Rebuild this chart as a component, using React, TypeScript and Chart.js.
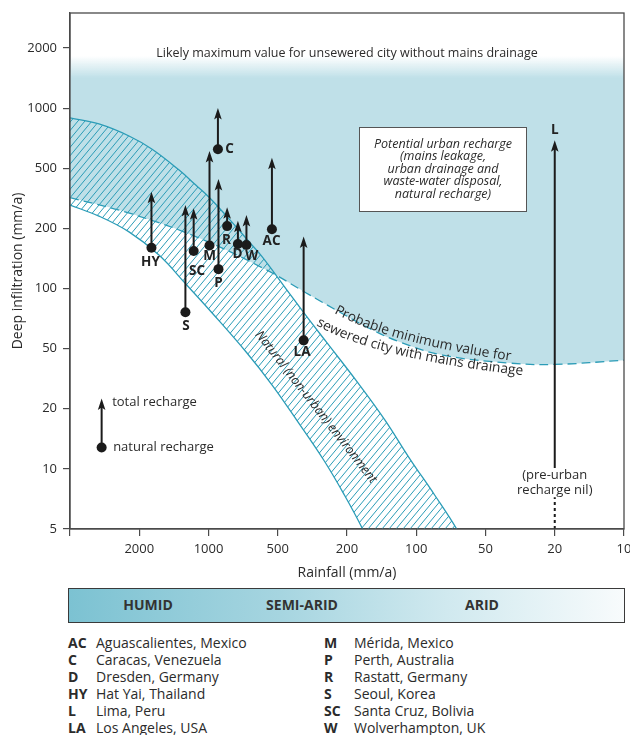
import React, { useEffect, useRef } from 'react';
import { Chart, registerables } from 'chart.js';

Chart.register(...registerables);

const FONT = '"Open Sans", "Noto Sans", sans-serif';
const TEXT = '#2b2b2b';
const TEAL = '#2b9cb7';
const BLUE = '#bfe0e8';
const AXIS = '#4a4a4a';
const INK = '#1b1b1b';

// ---------------- data ----------------
const cityCodes = ['HY', 'S', 'SC', 'M', 'P', 'C', 'R', 'D', 'W', 'AC', 'LA'];
const cityRain = [1770, 1260, 1160, 990, 905, 910, 830, 745, 684, 530, 355];
const cityNatural = [160, 76, 154, 164, 125, 622, 207, 167, 165, 198, 55];
const cityTotal = [350, 286, 272, 610, 425, 1000, 276, 225, 245, 564, 182];

// Lima: pre-urban recharge nil
const limaRain = 20;
const limaTotal = 690;
const limaSolidFrom = 10.1;
const limaDottedTo = 7.2;

// key arrow
const keyRain = 3290;
const keyNatural = 12.8;
const keyTotal = 23.4;

// probable minimum value for sewered city (lower edge of urban recharge zone)
const minRain = [5000, 2200, 1100, 561, 343, 221, 155, 118, 76.8, 36.3, 20, 10];
const minInf = [320, 249, 179, 124, 95, 76.3, 62, 54, 45.3, 40.1, 39.3, 41.9];

// natural (non-urban) environment band
const upperRain = [5000, 3410, 2290, 1765, 1342, 1136, 987, 814, 665, 584, 447, 343, 263, 182, 137, 107, 83.2, 66.7, 59.8];
const upperInf = [893, 833, 725, 624, 486, 387, 318, 231, 171, 144, 99.4, 72.9, 54, 30.6, 17.6, 11.3, 7.4, 5, 3.6];
const lowerRain = [5000, 3410, 2290, 1642, 1252, 964, 686, 528, 376, 270, 207, 171, 157];
const lowerInf = [285, 241, 192, 147, 105, 75.4, 47.5, 28.6, 16.8, 10.95, 7.4, 5, 3.74];

// axis ranges (values)
const rainMin = 10;
const rainMax = 5000;
const infMin = 5;
const infTickMax = 2000;

const climateZones = ['HUMID', 'SEMI-ARID', 'ARID'];
const legendLeft = [
  ['AC', 'Aguascalientes, Mexico'],
  ['C', 'Caracas, Venezuela'],
  ['D', 'Dresden, Germany'],
  ['HY', 'Hat Yai, Thailand'],
  ['L', 'Lima, Peru'],
  ['LA', 'Los Angeles, USA'],
];
const legendRight = [
  ['M', 'Mérida, Mexico'],
  ['P', 'Perth, Australia'],
  ['R', 'Rastatt, Germany'],
  ['S', 'Seoul, Korea'],
  ['SC', 'Santa Cruz, Bolivia'],
  ['W', 'Wolverhampton, UK'],
];

// ---------------- layout (pixels) ----------------
const labelOffsets: Record<string, [number, number, CanvasTextAlign]> = {
  HY: [-1, 14, 'center'],
  S: [0.5, 14, 'center'],
  SC: [3.4, 20.5, 'center'],
  M: [0, 11, 'center'],
  P: [0, 14, 'center'],
  C: [7.3, 0, 'left'],
  R: [-0.7, 14.3, 'center'],
  D: [-0.4, 10.3, 'center'],
  W: [5.3, 10.7, 'center'],
  AC: [-0.4, 12, 'center'],
  LA: [-1.6, 12.2, 'center'],
};
const zoneCenters = [148, 302, 482];

// 1-2-5 pseudo-logarithmic transform used by the original figure
function f125(v: number): number {
  const e = Math.floor(Math.log10(v) + 1e-9);
  const m = v / Math.pow(10, e);
  let p: number;
  if (m < 2) p = Math.log(m) / Math.LN2;
  else if (m < 5) p = 1 + Math.log(m / 2) / Math.log(2.5);
  else p = 2 + Math.log(m / 5) / Math.LN2;
  return 3 * e + p;
}
function inv125(f: number): number {
  const r = Math.round(f);
  const e = Math.floor(r / 3);
  return [1, 2, 5][r - 3 * e] * Math.pow(10, e);
}
const pts = (xs: number[], ys: number[]) => xs.map((x, i) => ({ x: f125(x), y: f125(ys[i]) }));

function arrow(ctx: CanvasRenderingContext2D, x: number, y0: number, y1: number) {
  ctx.beginPath();
  ctx.moveTo(x, y0);
  ctx.lineTo(x, y1 + 7);
  ctx.lineWidth = 2;
  ctx.strokeStyle = INK;
  ctx.stroke();
  ctx.beginPath();
  ctx.moveTo(x, y1);
  ctx.lineTo(x - 3.8, y1 + 11.5);
  ctx.lineTo(x, y1 + 9);
  ctx.lineTo(x + 3.8, y1 + 11.5);
  ctx.closePath();
  ctx.fillStyle = INK;
  ctx.fill();
}

function textOnQuad(
  ctx: CanvasRenderingContext2D,
  text: string,
  p0: [number, number],
  p1: [number, number],
  p2: [number, number]
) {
  const N = 400;
  const P: [number, number][] = [];
  const L: number[] = [0];
  for (let i = 0; i <= N; i++) {
    const t = i / N;
    const a = (1 - t) * (1 - t), b = 2 * (1 - t) * t, c = t * t;
    P.push([a * p0[0] + b * p1[0] + c * p2[0], a * p0[1] + b * p1[1] + c * p2[1]]);
    if (i > 0) L.push(L[i - 1] + Math.hypot(P[i][0] - P[i - 1][0], P[i][1] - P[i - 1][1]));
  }
  const at = (s: number) => {
    let i = 1;
    while (i < N && L[i] < s) i++;
    const seg = L[i] - L[i - 1] || 1;
    const k = Math.max(0, Math.min(1, (s - L[i - 1]) / seg));
    const x = P[i - 1][0] + k * (P[i][0] - P[i - 1][0]);
    const y = P[i - 1][1] + k * (P[i][1] - P[i - 1][1]);
    const ang = Math.atan2(P[i][1] - P[i - 1][1], P[i][0] - P[i - 1][0]);
    return { x, y, ang };
  };
  let s = 0;
  ctx.textAlign = 'center';
  ctx.textBaseline = 'alphabetic';
  for (const ch of text) {
    const w = ctx.measureText(ch).width;
    const { x, y, ang } = at(s + w / 2);
    ctx.save();
    ctx.translate(x, y);
    ctx.rotate(ang);
    ctx.fillText(ch, 0, 0);
    ctx.restore();
    s += w;
  }
}

const annotations = {
  id: 'annotations',
  beforeDatasetsDraw(chart: any) {
    const { ctx, chartArea: ca } = chart;
    const upMeta = chart.getDatasetMeta(3);
    const loMeta = chart.getDatasetMeta(4);
    const up = upMeta.dataset;
    const lo = loMeta.dataset;
    const trace = (line: any, meta: any) => {
      if (line && typeof line.updateControlPoints === 'function') line.updateControlPoints(ca, 'x');
      if (line && typeof line.path === 'function') {
        line.path(ctx);
      } else {
        meta.data.forEach((p: any, i: number) => (i ? ctx.lineTo(p.x, p.y) : ctx.moveTo(p.x, p.y)));
      }
    };
    const uP = upMeta.data;
    const lP = loMeta.data;
    ctx.save();
    ctx.beginPath();
    ctx.rect(ca.left, ca.top, ca.right - ca.left, ca.bottom - ca.top);
    ctx.clip();
    ctx.beginPath();
    trace(up, upMeta);
    ctx.lineTo(uP[uP.length - 1].x, ca.bottom + 300);
    ctx.lineTo(ca.left - 300, ca.bottom + 300);
    ctx.lineTo(ca.left - 300, uP[0].y);
    ctx.closePath();
    ctx.clip();
    ctx.beginPath();
    trace(lo, loMeta);
    ctx.lineTo(ca.right + 300, lP[lP.length - 1].y);
    ctx.lineTo(ca.right + 300, ca.top - 300);
    ctx.lineTo(ca.left - 300, ca.top - 300);
    ctx.lineTo(ca.left - 300, lP[0].y);
    ctx.closePath();
    ctx.clip();
    ctx.strokeStyle = TEAL;
    ctx.lineWidth = 1;
    const H = ca.bottom - ca.top;
    const dx = H / 1.2;
    ctx.beginPath();
    for (let x0 = ca.left - dx; x0 < ca.right; x0 += 7) {
      ctx.moveTo(x0, ca.bottom);
      ctx.lineTo(x0 + dx, ca.top);
    }
    ctx.stroke();
    ctx.restore();
  },
  afterDatasetsDraw(chart: any) {
    const { ctx, chartArea: ca } = chart;
    const xs = chart.scales.x;
    const ys = chart.scales.y;
    const px = (r: number) => xs.getPixelForValue(f125(r));
    const py = (v: number) => ys.getPixelForValue(f125(v));
    ctx.save();

    // arrows natural -> total
    cityCodes.forEach((c, i) => arrow(ctx, px(cityRain[i]), py(cityNatural[i]), py(cityTotal[i])));
    arrow(ctx, px(keyRain), py(keyNatural), py(keyTotal));

    // Lima
    const lx = px(limaRain);
    arrow(ctx, lx, py(limaSolidFrom), py(limaTotal));
    ctx.beginPath();
    ctx.setLineDash([3, 3]);
    ctx.moveTo(lx, py(infMin));
    ctx.lineTo(lx, py(limaDottedTo));
    ctx.lineWidth = 2;
    ctx.strokeStyle = INK;
    ctx.stroke();
    ctx.setLineDash([]);

    // city labels
    ctx.fillStyle = '#222';
    ctx.font = `bold 13.5px ${FONT}`;
    ctx.textBaseline = 'middle';
    cityCodes.forEach((c, i) => {
      const [ox, oy, al] = labelOffsets[c];
      ctx.textAlign = al;
      ctx.fillText(c, px(cityRain[i]) + ox, py(cityNatural[i]) + oy);
    });
    ctx.textAlign = 'center';
    ctx.fillText('L', lx, py(limaTotal) - 10);

    ctx.fillStyle = TEXT;
    ctx.font = `13px ${FONT}`;
    // key text
    ctx.textAlign = 'left';
    ctx.fillText('total recharge', px(keyRain) + 10.5, py(keyTotal) + 3.5);
    ctx.fillText('natural recharge', px(keyRain) + 11.5, py(keyNatural) - 0.5);

    // top note
    ctx.font = `12.5px ${FONT}`;
    ctx.textAlign = 'center';
    ctx.fillText('Likely maximum value for unsewered city without mains drainage', 347, 53);

    // pre-urban note
    ctx.font = `13px ${FONT}`;
    ctx.fillText('(pre-urban', lx, 475);
    ctx.fillText('recharge nil)', lx, 490);

    // box
    ctx.fillStyle = '#ffffff';
    ctx.fillRect(359.5, 127.5, 167, 84);
    ctx.strokeStyle = '#555';
    ctx.lineWidth = 1;
    ctx.strokeRect(359.5, 127.5, 167, 84);
    ctx.fillStyle = TEXT;
    ctx.font = `italic 12.5px ${FONT}`;
    const boxLines = [
      'Potential urban recharge',
      '(mains leakage,',
      'urban drainage and',
      'waste-water disposal,',
      'natural recharge)',
    ];
    boxLines.forEach((t, i) => ctx.fillText(t, 443, 144 + i * 12.6));

    // Natural environment band label
    ctx.save();
    ctx.translate(316, 407);
    ctx.rotate((52 * Math.PI) / 180);
    ctx.font = `italic 12.8px ${FONT}`;
    ctx.textAlign = 'center';
    ctx.textBaseline = 'middle';
    ctx.fillText('Natural (non-urban) environment', 0, 0);
    ctx.restore();

    // probable minimum labels
    ctx.font = `13.8px ${FONT}`;
    ctx.fillStyle = TEXT;
    textOnQuad(ctx, 'Probable minimum value for', [334, 313], [390, 344], [520, 362]);
    textOnQuad(ctx, 'sewered city with mains drainage', [316, 325], [375.3, 359.2], [530, 376]);

    // frame
    ctx.strokeStyle = AXIS;
    ctx.lineWidth = 1.3;
    ctx.strokeRect(ca.left, ca.top, ca.right - ca.left, ca.bottom - ca.top);
    ctx.restore();
  },
};

export default function App() {
  const ref = useRef<HTMLCanvasElement>(null);

  useEffect(() => {
    const canvas = ref.current;
    if (!canvas) return;
    const tickFont = { family: FONT, size: 13 };
    const titleFont = { family: FONT, size: 14 };
    const chart = new Chart(canvas, {
      type: 'line',
      data: {
        datasets: [
          {
            label: 'natural recharge',
            data: pts(cityRain, cityNatural),
            showLine: false,
            pointRadius: 5,
            pointBackgroundColor: INK,
            pointBorderColor: INK,
            pointBorderWidth: 0,
            order: 0,
          },
          {
            label: 'key',
            data: pts([keyRain], [keyNatural]),
            showLine: false,
            pointRadius: 5,
            pointBackgroundColor: INK,
            pointBorderColor: INK,
            pointBorderWidth: 0,
            order: 0,
          },
          {
            label: 'Probable minimum value for sewered city with mains drainage',
            data: pts(minRain, minInf),
            borderColor: TEAL,
            borderWidth: 1.3,
            borderDash: [9, 5],
            pointRadius: 0,
            tension: 0.4,
            fill: 'end',
            backgroundColor: (c: any) => {
              const ch = c.chart;
              const ca = ch.chartArea;
              if (!ca) return BLUE;
              const g = ch.ctx.createLinearGradient(0, ca.top + 43, 0, ca.top + 65);
              g.addColorStop(0, 'rgba(191,224,232,0)');
              g.addColorStop(1, BLUE);
              return g;
            },
            order: 3,
          },
          {
            label: 'Natural environment (upper)',
            data: pts(upperRain, upperInf),
            borderColor: TEAL,
            borderWidth: 1.3,
            pointRadius: 0,
            tension: 0.4,
            fill: false,
            order: 2,
          },
          {
            label: 'Natural environment (lower)',
            data: pts(lowerRain, lowerInf),
            borderColor: TEAL,
            borderWidth: 1.3,
            pointRadius: 0,
            tension: 0.4,
            fill: false,
            order: 2,
          },
        ],
      } as any,
      options: {
        animation: false,
        responsive: false,
        devicePixelRatio: 1,
        events: [],
        layout: { padding: { top: 13, right: 6, left: 0, bottom: 0 } },
        elements: { line: { capBezierPoints: false } },
        plugins: {
          legend: { display: false },
          tooltip: { enabled: false },
          filler: { drawTime: 'beforeDatasetsDraw', propagate: false },
        },
        scales: {
          x: {
            type: 'linear',
            reverse: true,
            min: f125(rainMin),
            max: f125(rainMax),
            afterFit: (s: any) => {
              s.height = 61;
              s.paddingLeft = 0;
              s.paddingRight = 0;
            },
            ticks: {
              stepSize: 1,
              autoSkip: false,
              maxRotation: 0,
              includeBounds: false,
              padding: 5,
              color: TEXT,
              font: tickFont,
              callback: (v: any) => {
                const val = inv125(Number(v));
                return val === rainMax ? '' : String(val);
              },
            },
            grid: { drawOnChartArea: false, drawTicks: true, tickLength: 7, color: AXIS, lineWidth: 1.2 },
            border: { color: AXIS, width: 1.3 },
            title: {
              display: true,
              text: 'Rainfall (mm/a)',
              color: TEXT,
              font: titleFont,
              padding: { top: 0, bottom: 8.5 },
            },
          },
          y: {
            type: 'linear',
            min: f125(infMin),
            max: f125(infTickMax) + 0.582,
            afterFit: (s: any) => {
              s.width = 70;
              s.paddingTop = 0;
              s.paddingBottom = 0;
            },
            ticks: {
              stepSize: 1,
              autoSkip: false,
              includeBounds: false,
              padding: 6,
              color: TEXT,
              font: tickFont,
              callback: (v: any) => {
                const n = Number(v);
                if (Math.abs(n - Math.round(n)) > 1e-6) return '';
                return String(inv125(n));
              },
            },
            grid: { drawOnChartArea: false, drawTicks: true, tickLength: 7, color: AXIS, lineWidth: 1.2 },
            border: { color: AXIS, width: 1.3 },
            title: {
              display: true,
              text: 'Deep infiltration (mm/a)',
              color: TEXT,
              font: titleFont,
              padding: { top: 9.5, bottom: 0 },
            },
          },
        },
      } as any,
      plugins: [annotations],
    });
    return () => chart.destroy();
  }, []);

  const rowTop = (i: number) => 634 + i * 16.9;
  const legendText: React.CSSProperties = {
    position: 'absolute',
    fontSize: 14,
    lineHeight: '17px',
    whiteSpace: 'nowrap',
    color: TEXT,
  };

  return (
    <div
      style={{
        position: 'absolute',
        left: 0,
        top: 0,
        width: 630,
        height: 735,
        fontFamily: FONT,
        color: TEXT,
        background: '#fff',
        overflow: 'hidden',
      }}
    >
      <canvas ref={ref} width={630} height={590} style={{ position: 'absolute', left: 0, top: 0, display: 'block' }} />
      <div
        style={{
          position: 'absolute',
          left: 68,
          top: 588,
          width: 557,
          height: 35,
          boxSizing: 'border-box',
          border: '1.5px solid #3a3a3a',
          background: 'linear-gradient(to right, #7cc2d2 0%, #a6d5e0 38%, #d0e9ef 68%, #f8fbfc 100%)',
        }}
      />
      {climateZones.map((z, i) => (
        <div
          key={z}
          style={{
            position: 'absolute',
            left: zoneCenters[i] - 60,
            width: 120,
            top: 596,
            lineHeight: '18px',
            textAlign: 'center',
            fontWeight: 700,
            fontSize: 14,
            color: '#333',
          }}
        >
          {z}
        </div>
      ))}
      {legendLeft.map(([a, n], i) => (
        <React.Fragment key={a}>
          <div style={{ ...legendText, left: 68, top: rowTop(i), fontWeight: 700 }}>{a}</div>
          <div style={{ ...legendText, left: 96, top: rowTop(i) }}>{n}</div>
        </React.Fragment>
      ))}
      {legendRight.map(([a, n], i) => (
        <React.Fragment key={a}>
          <div style={{ ...legendText, left: 324, top: rowTop(i), fontWeight: 700 }}>{a}</div>
          <div style={{ ...legendText, left: 354, top: rowTop(i) }}>{n}</div>
        </React.Fragment>
      ))}
    </div>
  );
}
